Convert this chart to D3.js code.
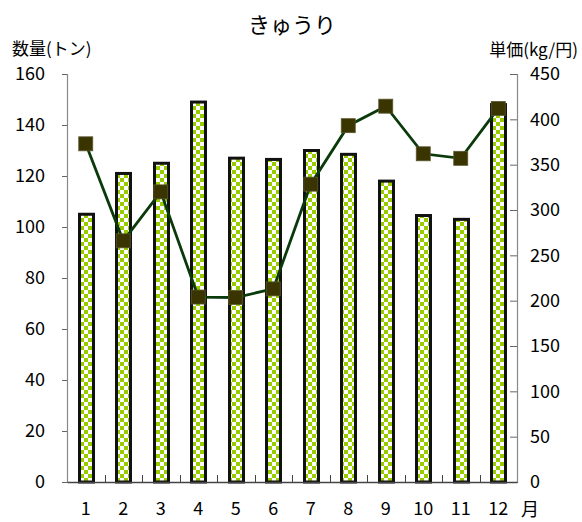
<!DOCTYPE html>
<html><head><meta charset="utf-8">
<script src="https://cdn.jsdelivr.net/npm/d3@7"></script>
<style>
body{margin:0;background:#fff;}
text{font-family:"Noto Sans CJK JP","Noto Sans",sans-serif;fill:#000;}
</style></head>
<body><svg id="c" width="582" height="522"></svg>
<script>
const months = ["1","2","3","4","5","6","7","8","9","10","11","12"];
const quantity = [105, 121, 125, 149, 127, 126.5, 130, 128.5, 118, 104.5, 103, 148];
const price = [373, 266, 320, 204, 203.5, 213, 328.5, 393, 414.5, 362, 357, 412];
const leftTicks = [0,20,40,60,80,100,120,140,160];
const rightTicks = [0,50,100,150,200,250,300,350,400,450];
const title = "きゅうり";
const leftLabel = "数量(トン)";
const rightLabel = "単価(kg/円)";
const xUnit = "月";

const svg = d3.select("#c");
const L = 67, R = 517, T = 74, B = 482;

const x = d3.scaleBand().domain(months).range([L, R]);
const yL = d3.scaleLinear().domain([0,160]).range([B, T]);
const yR = d3.scaleLinear().domain([0,450]).range([B, T]);
const cx = m => x(m) + x.bandwidth()/2;

const defs = svg.append("defs");
const pat = defs.append("pattern").attr("id","chk").attr("patternUnits","userSpaceOnUse")
  .attr("width",8).attr("height",8).attr("x",0).attr("y",2);
pat.append("rect").attr("width",8).attr("height",8).attr("fill","#fff");
pat.append("rect").attr("width",4).attr("height",4).attr("fill","#99cc00");
pat.append("rect").attr("x",4).attr("y",4).attr("width",4).attr("height",4).attr("fill","#99cc00");

// title
svg.append("text").attr("x",292).attr("y",33).attr("text-anchor","middle")
  .attr("font-size",22).text(title);
svg.append("text").attr("x",12).attr("y",55).attr("font-size",17).text(leftLabel);
svg.append("text").attr("x",578).attr("y",56).attr("text-anchor","end").attr("font-size",17).text(rightLabel);

// bars
const bw = 14;
svg.append("g").selectAll("rect").data(quantity).join("rect")
  .attr("x",(d,i)=>Math.round(cx(months[i]) - bw/2) + 0.5)
  .attr("y",d=>yL(d))
  .attr("width",bw)
  .attr("height",d=>B - yL(d))
  .attr("fill","url(#chk)")
  .attr("stroke","#111").attr("stroke-width",3);

// axes
const gL = svg.append("g").attr("transform",`translate(${L},0)`)
  .call(d3.axisLeft(yL).tickValues(leftTicks).tickSize(5).tickPadding(17));
gL.selectAll("text").attr("font-size",18);
const gR = svg.append("g").attr("transform",`translate(${R},0)`)
  .call(d3.axisRight(yR).tickValues(rightTicks).tickSize(-7).tickPadding(13));
gR.selectAll("text").attr("font-size",18);
const gB = svg.append("g").attr("transform",`translate(0,${B})`)
  .call(d3.axisBottom(x).tickSize(0).tickPadding(20));
gB.selectAll("text").attr("font-size",18);
// category boundary ticks
svg.append("g").selectAll("line").data(months.slice(1)).join("line")
  .attr("x1",d=>Math.round(x(d))+0.5).attr("x2",d=>Math.round(x(d))+0.5).attr("y1",B).attr("y2",B-7)
  .attr("stroke","#444").attr("stroke-width",1);
[gL,gR].forEach(g=>{
  g.select(".domain").attr("stroke","#888").attr("stroke-width",1.2);
  g.selectAll(".tick line").attr("stroke","#666");
});
gB.select(".domain").attr("stroke","#444").attr("stroke-width",1.5);
svg.append("text").attr("x",521).attr("y",516).attr("font-size",18).text(xUnit);

// price line
const line = d3.line().x((d,i)=>cx(months[i])).y(d=>yR(d));
svg.append("path").datum(price).attr("d",line).attr("fill","none")
  .attr("stroke","#0a3a0a").attr("stroke-width",2.8);
const ms = 14;
svg.append("g").selectAll("rect").data(price).join("rect")
  .attr("x",(d,i)=>cx(months[i]) - ms/2)
  .attr("y",d=>yR(d) - ms/2)
  .attr("width",ms).attr("height",ms)
  .attr("fill","#3a3400").attr("stroke","#5a5630").attr("stroke-width",0.8);
</script></body></html>
